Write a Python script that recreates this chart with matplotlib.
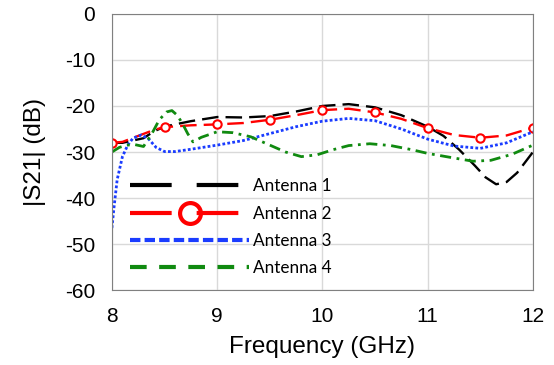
import matplotlib.pyplot as plt
from matplotlib.lines import Line2D

plt.rcParams['font.family'] = ['Liberation Sans', 'DejaVu Sans']
plt.rcParams['axes.unicode_minus'] = False

# values
freq_1 = [8.0, 8.1, 8.2, 8.3, 8.4, 8.5, 8.6, 8.75, 9.0, 9.25, 9.5, 9.75, 10.0, 10.25, 10.5,
          10.75, 11.0, 11.15, 11.3, 11.45, 11.55, 11.65, 11.75, 11.85, 12.0]
s21_1 = [-28, -28, -27.5, -27, -25.5, -24.5, -24, -23.3, -22.4, -22.5, -22.2, -21.2, -20, -19.6, -20.3,
         -22, -24.5, -26.5, -29.5, -33, -35.5, -37, -36.5, -34.5, -30]

freq_2 = [8.0, 8.1, 8.25, 8.4, 8.5, 8.75, 9.0, 9.25, 9.5, 9.75, 10.0, 10.25, 10.5, 10.75,
          11.0, 11.25, 11.5, 11.75, 12.0]
s21_2 = [-28, -27.8, -26.5, -25.2, -24.6, -24.2, -24.0, -23.7, -23.0, -22, -20.9, -20.6, -21.4, -22.8,
         -24.8, -26.3, -26.9, -26.4, -24.7]

freq_3 = [8.0, 8.02, 8.05, 8.1, 8.15, 8.2, 8.28, 8.35, 8.42, 8.5, 8.6, 8.75, 9.0, 9.25, 9.5,
          9.75, 10.0, 10.25, 10.5, 10.75, 11.0, 11.25, 11.5, 11.75, 12.0]
s21_3 = [-46.5, -42, -36, -31, -28.5, -27, -26.3, -27.2, -29, -29.9, -29.9, -29.4, -28.5, -27.5, -26,
         -24.5, -23.3, -22.7, -23.2, -25, -27.2, -28.7, -29.2, -28, -25.6]

freq_4 = [8.0, 8.07, 8.14, 8.22, 8.3, 8.38, 8.45, 8.52, 8.57, 8.62, 8.67, 8.72, 8.77, 8.85, 9.0,
          9.15, 9.32, 9.5, 9.65, 9.8, 9.95, 10.1, 10.25, 10.45, 10.65, 10.85, 11.0, 11.2, 11.43,
          11.6, 11.8, 12.0]
s21_4 = [-30, -29, -28.5, -28.4, -28.8, -26, -23, -21.3, -21, -22, -23.8, -26, -27.8, -26.8, -25.6,
         -25.8, -26.7, -28.5, -30, -31, -30.6, -29.5, -28.6, -28.2, -28.6, -29.5, -30.3, -31.1, -32,
         -31.8, -30.5, -28.5]

labels = ['Antenna 1', 'Antenna 2', 'Antenna 3', 'Antenna 4']

fig = plt.figure(figsize=(5.54, 3.65), dpi=100)
ax = fig.add_axes([0.202, 0.205, 0.760, 0.757])

ax.grid(color='#d9d9d9', linewidth=1)
ax.set_axisbelow(True)

red_marks = [i for i, f in enumerate(freq_2) if (f * 2) % 1 == 0]

ax.plot(freq_1, s21_1, color='black', lw=1.7, dashes=(7, 3))
ax.plot(freq_2, s21_2, color='red', lw=1.7, dashes=(7, 3), marker='o', markevery=red_marks,
        markersize=6, markerfacecolor='white', markeredgecolor='red', markeredgewidth=1.5)
ax.plot(freq_3, s21_3, color='#1a3cff', lw=2, linestyle=(0, (1, 0.8)))
ax.plot(freq_4, s21_4, color='#108a10', lw=2, linestyle=(0, (4, 2, 1, 2)))

ax.set_xlim(8, 12)
ax.set_ylim(-60, 0)
ax.set_xticks([8, 9, 10, 11, 12])
ax.set_yticks(range(-60, 1, 10))
ax.tick_params(length=0, labelsize=15, pad=12)
for s in ax.spines.values():
    s.set_color('#808080')

ax.set_xlabel('Frequency (GHz)', fontsize=17.5, labelpad=7)
ax.set_ylabel('|S21| (dB)', fontsize=17.5, labelpad=14)

handles = [
    Line2D([0], [0], color='black', lw=3, dashes=(10, 6)),
    Line2D([0], [0], color='red', lw=3, dashes=(10, 6), marker='o', markersize=15,
           markerfacecolor='none', markeredgecolor='red', markeredgewidth=3),
    Line2D([0], [0], color='#1a3cff', lw=3, linestyle=(0, (2.5, 1))),
    Line2D([0], [0], color='#108a10', lw=3, linestyle=(0, (4, 3))),
]
ax.legend(handles, labels, loc='lower left', bbox_to_anchor=(0.006, -0.005), frameon=False,
          handlelength=7.0, handletextpad=0.2, labelspacing=0.66,
          prop={'family': ['Lato', 'DejaVu Sans'], 'size': 12.3})

fig.savefig('out.png', dpi=100)
